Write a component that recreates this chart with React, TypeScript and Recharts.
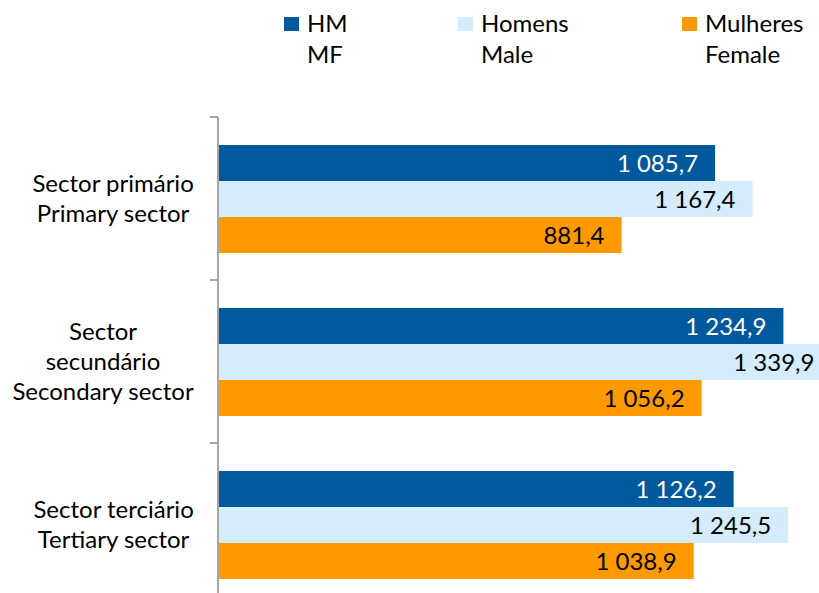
import { BarChart, Bar, XAxis, YAxis, Legend, LabelList } from 'recharts';

const categories = ['Sector primário', 'Sector secundário', 'Sector terciário'];
const categoryLines = [
  ['Sector primário', 'Primary sector'],
  ['Sector', 'secundário', 'Secondary sector'],
  ['Sector terciário', 'Tertiary sector'],
];
const hm = [1085.7, 1234.9, 1126.2];
const homens = [1167.4, 1339.9, 1245.5];
const mulheres = [881.4, 1056.2, 1038.9];
const seriesLabels = [
  ['HM', 'MF'],
  ['Homens', 'Male'],
  ['Mulheres', 'Female'],
];

const colors = ['#00599C', '#D4ECFC', '#FF9900'];
const axisColor = '#A6A6A6';
const legendLeft = [284, 458, 682];
const FONT = 'Lato';

const CHART_H = 606;
const MARGIN_TOP = 117;
const BAND = (CHART_H - MARGIN_TOP) / categories.length;

const data = categories.map((name, i) => ({
  name,
  hm: hm[i],
  homens: homens[i],
  mulheres: mulheres[i],
}));

const fmt = (v: number) => {
  const [int, dec] = v.toFixed(1).split('.');
  return int.replace(/\B(?=(\d{3})+(?!\d))/g, ' ') + ',' + dec;
};

let ctx: CanvasRenderingContext2D | null = null;
const measure = (t: string) => {
  if (!ctx) ctx = document.createElement('canvas').getContext('2d');
  if (!ctx) return t.length * 11;
  ctx.font = `24px ${FONT}`;
  return ctx.measureText(t).width;
};

// category label (wrapped lines, centred on the widest one) + tick marks on band edges
const CategoryTick = (props: any) => {
  const { x, y, payload } = props;
  const idx = categories.indexOf(payload.value);
  const lines = categoryLines[idx] ?? [payload.value];
  const maxW = Math.max(...lines.map(measure));
  const cx = x - 24 - maxW / 2;
  const n = lines.length;
  const edges = [y - BAND / 2];
  if (idx === categories.length - 1) edges.push(y + BAND / 2);
  return (
    <g>
      {edges.map((ey) => (
        <line key={ey} x1={x - 8} x2={x} y1={ey} y2={ey} stroke={axisColor} strokeWidth={2} />
      ))}
      {lines.map((l, i) => (
        <text
          key={i}
          x={cx}
          y={y + 8 + 30 * (i - (n - 1) / 2)}
          textAnchor="middle"
          fontFamily={FONT}
          fontSize={24}
          fill="#000"
        >
          {l}
        </text>
      ))}
    </g>
  );
};

const LegendContent = () => (
  <div
    style={{
      position: 'relative',
      width: 819,
      height: 80,
      fontFamily: FONT,
      fontSize: 24,
      lineHeight: '31.6px',
      color: '#000',
    }}
  >
    {seriesLabels.map((lines, i) => (
      <div key={i} style={{ position: 'absolute', left: legendLeft[i], top: 0 }}>
        <span
          style={{ position: 'absolute', left: 0, top: 17, width: 15, height: 14, background: colors[i] }}
        />
        <div style={{ position: 'absolute', left: 23, top: 6.6, whiteSpace: 'nowrap' }}>
          {lines.map((l) => (
            <div key={l}>{l}</div>
          ))}
        </div>
      </div>
    ))}
  </div>
);

const labelStyle = { fontSize: 24, fontFamily: FONT };

export default function App() {
  return (
    <>
      <style>{'body{margin:0;overflow:hidden;}'}</style>
      <div style={{ width: 819, height: 593, overflow: 'hidden', background: '#fff' }}>
        <BarChart
          layout="vertical"
          width={860}
          height={CHART_H}
          data={data}
          margin={{ top: MARGIN_TOP, right: 1, bottom: 0, left: 0 }}
          barGap={0}
        >
          <XAxis type="number" domain={[0, 1400]} hide allowDataOverflow />
          <YAxis
            dataKey="name"
            type="category"
            width={218}
            axisLine={{ stroke: axisColor, strokeWidth: 2 }}
            tickLine={false}
            tickSize={0}
            tickMargin={0}
            interval={0}
            tick={<CategoryTick />}
          />
          <Legend
            verticalAlign="middle"
            align="center"
            content={<LegendContent />}
            wrapperStyle={{ top: 0, left: 0, width: 819, height: 80 }}
          />
          <Bar dataKey="hm" fill={colors[0]} barSize={36} isAnimationActive={false}>
            <LabelList dataKey="hm" position="insideRight" offset={17} formatter={fmt} fill="#fff" {...labelStyle} />
          </Bar>
          <Bar dataKey="homens" fill={colors[1]} barSize={36} isAnimationActive={false}>
            <LabelList dataKey="homens" position="insideRight" offset={17} formatter={fmt} fill="#000" {...labelStyle} />
          </Bar>
          <Bar dataKey="mulheres" fill={colors[2]} barSize={36} isAnimationActive={false}>
            <LabelList dataKey="mulheres" position="insideRight" offset={17} formatter={fmt} fill="#000" {...labelStyle} />
          </Bar>
        </BarChart>
      </div>
    </>
  );
}
